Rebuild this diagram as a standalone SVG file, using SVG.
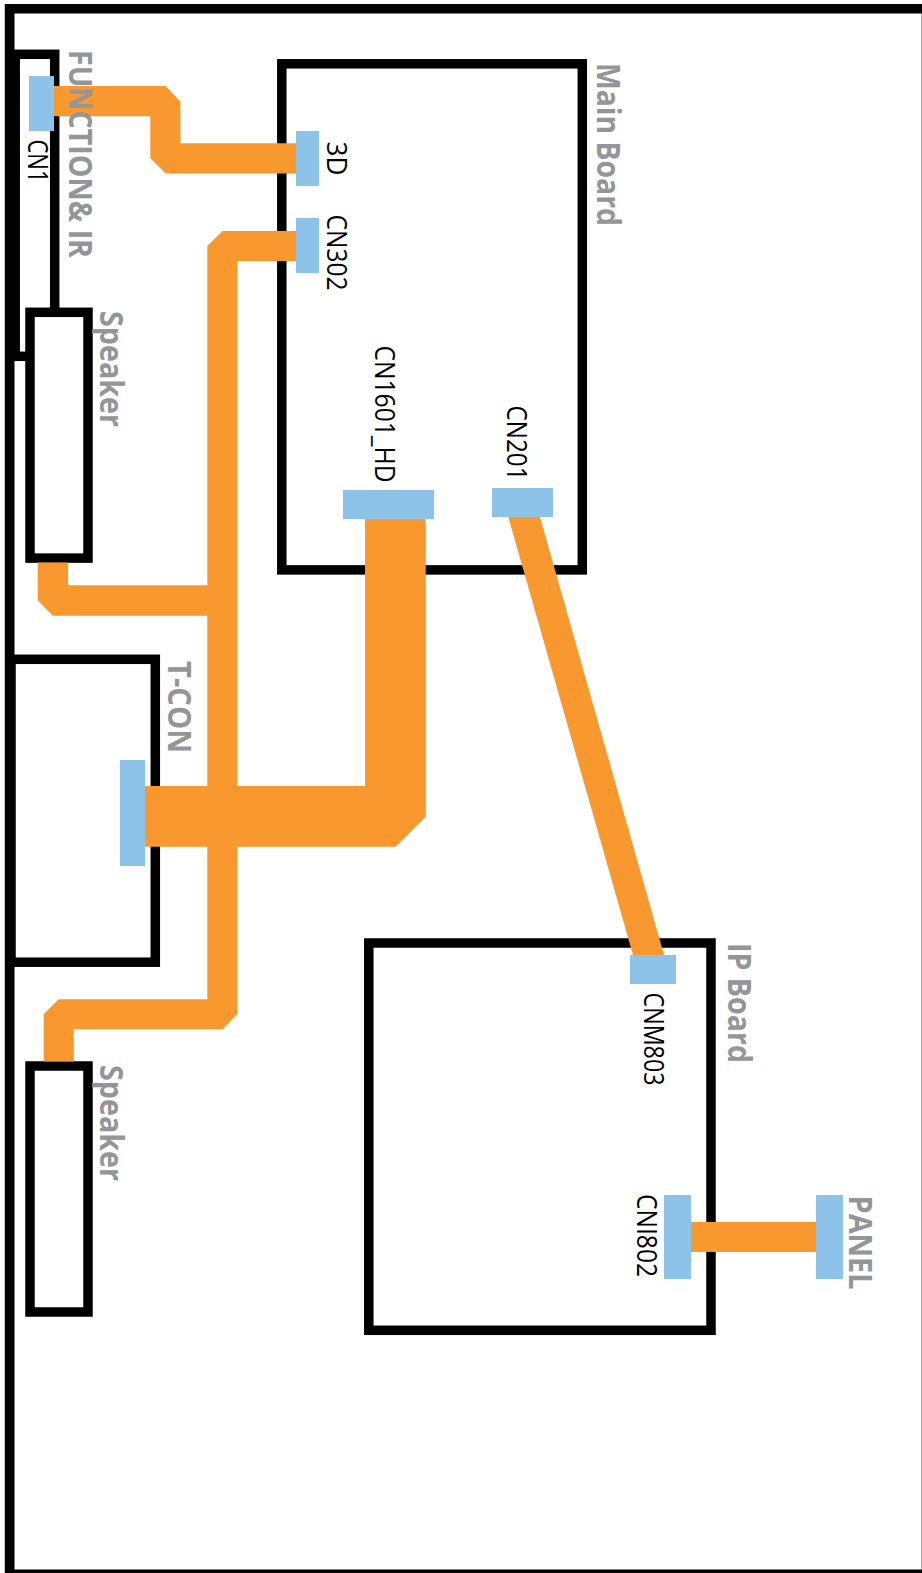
<svg xmlns="http://www.w3.org/2000/svg" width="922" height="1573" viewBox="0 0 922 1573">
<style>
.box{fill:none;stroke:#000;stroke-width:9.5}
.wbox{fill:#fff;stroke:#000;stroke-width:9.5}
.wire{fill:#f9982e}
.conn{fill:#8dc2e9}
.t{font-family:"Open Sans","Liberation Sans",sans-serif;font-size:27px;fill:#000}
.h{font-family:"Open Sans","Liberation Sans",sans-serif;font-size:33px;font-weight:700;fill:#939598}
</style>
<rect width="922" height="1573" fill="#fff"/>
<g id="frame">
<rect x="4" y="4" width="1" height="1569" fill="#c8c8c8"/>
<rect x="921" y="13" width="1" height="1557" fill="#a8a8a8"/>
<rect x="5" y="4" width="917" height="9.5" fill="#000"/>
<rect x="5" y="4" width="9.5" height="1569" fill="#000"/>
<rect x="5" y="1569.5" width="917" height="3.5" fill="#000"/>
</g>
<g id="function-ir">
<rect class="box" x="15.2" y="54.3" width="39.5" height="302"/>
</g>
<g id="speaker-1">
<rect class="wbox" x="30" y="312.3" width="58" height="245.8"/>
<text class="h" transform="translate(99.5,311) rotate(90)" textLength="116" lengthAdjust="spacingAndGlyphs">Speaker</text>
</g>
<g id="t-con">
<rect class="box" x="11" y="659.3" width="144.3" height="302.9"/>
<text class="h" transform="translate(168,661) rotate(90)" textLength="92" lengthAdjust="spacingAndGlyphs">T-CON</text>
</g>
<g id="speaker-2">
<rect class="wbox" x="30" y="1066" width="58" height="246"/>
<text class="h" transform="translate(99.5,1065) rotate(90)" textLength="116" lengthAdjust="spacingAndGlyphs">Speaker</text>
</g>
<g id="main-board">
<rect class="box" x="281.8" y="63.8" width="300.5" height="506.1"/>
<text class="h" transform="translate(596.7,63) rotate(90)" textLength="163" lengthAdjust="spacingAndGlyphs">Main Board</text>
</g>
<g id="ip-board">
<rect class="box" x="368.8" y="943" width="342.2" height="387.3"/>
<text class="h" transform="translate(728,943) rotate(90)" textLength="120" lengthAdjust="spacingAndGlyphs">IP Board</text>
</g>
<g id="connectors">
<polygon class="wire" points="54,86 165.7,86 180.4,101.7 180.4,143.3 296,143.3 296,173.4 165.7,173.4 150.3,158.3 150.3,116.3 54,116.3"/>
<polygon class="wire" points="296,231 222.5,231 207.3,246 207.3,585.3 68,585.3 68,562.6 37.7,562.6 37.7,600.3 52.7,615.7 207.3,615.7 207.3,999.3 58.7,999.3 43.7,1014 43.7,1061.5 73.7,1061.5 73.7,1029.3 222.5,1029.3 237.3,1014 237.3,261 296,261"/>
<polygon class="wire" points="145,786 365,786 365,519 425.7,519 425.7,816.7 395.7,846.7 145,846.7"/>
<polygon class="wire" points="508.3,517 540,517 664,955 633,955"/>
<rect class="wire" x="691" y="1222" width="125" height="30"/>
</g>
<g id="function-ir-label">
<text class="h" transform="translate(68.5,50) rotate(90)" textLength="208" lengthAdjust="spacingAndGlyphs">FUNCTION&amp; IR</text>
</g>
<g id="ports">
<g id="port-cn1"><rect class="conn" x="29" y="76" width="25" height="55"/>
<text class="t" transform="translate(27.5,139.5) rotate(90)" textLength="43" lengthAdjust="spacingAndGlyphs">CN1</text></g>
<g id="port-3d"><rect class="conn" x="296" y="131" width="23" height="55"/>
<text class="t" transform="translate(326.5,141.5) rotate(90)" textLength="34" lengthAdjust="spacingAndGlyphs">3D</text></g>
<g id="port-cn302"><rect class="conn" x="296" y="218" width="23" height="55"/>
<text class="t" transform="translate(326.5,214.5) rotate(90)" textLength="76" lengthAdjust="spacingAndGlyphs">CN302</text></g>
<g id="port-cn1601"><rect class="conn" x="343" y="490" width="91" height="29"/>
<text class="t" transform="translate(374.5,345.5) rotate(90)" textLength="137" lengthAdjust="spacingAndGlyphs">CN1601_HD</text></g>
<g id="port-cn201"><rect class="conn" x="492" y="488" width="61" height="29"/>
<text class="t" transform="translate(507,405.5) rotate(90)" textLength="75" lengthAdjust="spacingAndGlyphs">CN201</text></g>
<g id="port-tcon"><rect class="conn" x="120" y="760" width="25" height="106"/></g>
<g id="port-cnm803"><rect class="conn" x="630" y="955" width="46" height="29"/>
<text class="t" transform="translate(644,992.5) rotate(90)" textLength="93" lengthAdjust="spacingAndGlyphs">CNM803</text></g>
<g id="port-cni802"><rect class="conn" x="664" y="1195" width="27" height="84"/>
<text class="t" transform="translate(636.5,1194) rotate(90)" textLength="83" lengthAdjust="spacingAndGlyphs">CNI802</text></g>
<g id="panel"><rect class="conn" x="816" y="1195" width="27" height="84"/>
<text class="h" transform="translate(849,1195.5) rotate(90)" textLength="94" lengthAdjust="spacingAndGlyphs">PANEL</text></g>
</g>
</svg>
